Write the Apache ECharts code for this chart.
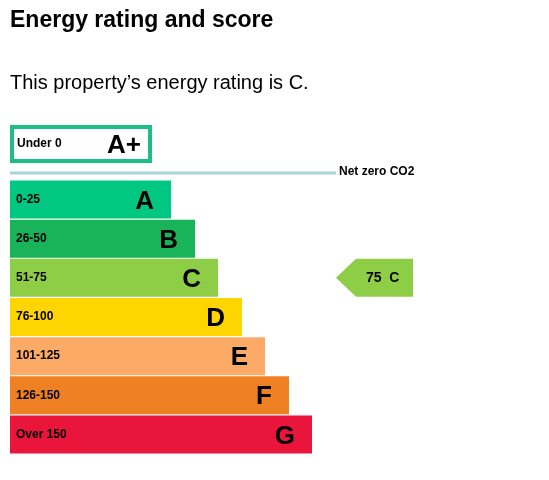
<!DOCTYPE html>
<html><head><meta charset="utf-8">
<script src="https://cdn.jsdelivr.net/npm/echarts@6/dist/echarts.min.js"></script>
<style>html,body{margin:0;padding:0;background:#fff}#c{width:549px;height:480px}</style>
</head><body><div id="c"></div>
<script>
const bands = ['A','B','C','D','E','F','G'];
const ranges = ['0-25','26-50','51-75','76-100','101-125','126-150','Over 150'];
const barLengths = [161,185,208,232,255,279,302];
const colors = ['#00c781','#19b459','#8dce46','#ffd500','#fcaa65','#ef8023','#e9153b'];
const topBand = 'A+', topRange = 'Under 0', topLength = 142;
const currentScore = 75, currentBand = 'C', currentPos = 326;

const chart = echarts.init(document.getElementById('c'));
chart.setOption({
  animation:false,
  title:[
    {text:'Energy rating and score',left:5,top:4,textStyle:{fontFamily:'Liberation Sans',fontSize:23,fontWeight:'bold',color:'#000'}},
    {text:'This property\u2019s energy rating is C.',left:5,top:68,textStyle:{fontFamily:'Liberation Sans',fontSize:20,fontWeight:'normal',color:'#000'}}
  ],
  graphic:[
    {type:'line',shape:{x1:10,y1:173,x2:336,y2:173},style:{stroke:'#a9d4de',lineWidth:3}},
    {type:'text',left:339,top:166,style:{text:'Net zero CO2',font:'bold 12px Liberation Sans',fill:'#000'}}
  ],
  grid:[
    {left:10,top:123,width:400,height:42},
    {left:10,top:180,width:400,height:274}
  ],
  xAxis:[
    {gridIndex:0,type:'value',min:0,max:400,show:false},
    {gridIndex:1,type:'value',min:0,max:400,show:false}
  ],
  yAxis:[
    {gridIndex:0,type:'category',data:[topBand],show:false},
    {gridIndex:1,type:'category',data:bands,inverse:true,show:false}
  ],
  series:[
    {type:'bar',xAxisIndex:0,yAxisIndex:0,barWidth:38,
     data:[{value:topLength,itemStyle:{color:'#fff',borderColor:'#1ebd84',borderWidth:4}}],
     label:{show:true,position:'insideLeft',offset:[2,0],formatter:topRange,fontFamily:'Liberation Sans',fontSize:12,fontWeight:'bold',color:'#000'}},
    {type:'bar',xAxisIndex:0,yAxisIndex:0,barWidth:38,barGap:'-100%',
     data:[{value:topLength,itemStyle:{color:'transparent'}}],
     label:{show:true,position:'insideRight',offset:[-6,2],formatter:topBand,fontFamily:'Liberation Sans',fontSize:26,fontWeight:'bold',color:'#000'}},
    {type:'bar',xAxisIndex:1,yAxisIndex:1,barCategoryGap:1,barWidth:38,
     data:barLengths.map((v,i)=>({value:v,itemStyle:{color:colors[i]}})),
     label:{show:true,position:'insideLeft',offset:[1,0],formatter:p=>ranges[p.dataIndex],fontFamily:'Liberation Sans',fontSize:12,fontWeight:'bold',color:'#000'}},
    {type:'bar',xAxisIndex:1,yAxisIndex:1,barWidth:38,barGap:'-100%',
     data:barLengths.map(v=>({value:v,itemStyle:{color:'transparent'}})),
     label:{show:true,position:'insideRight',offset:[-12,2],formatter:p=>bands[p.dataIndex],fontFamily:'Liberation Sans',fontSize:26,fontWeight:'bold',color:'#000'}},
    {type:'custom',xAxisIndex:1,yAxisIndex:1,
     data:[[currentPos,currentBand]],
     renderItem:(params,api)=>{
       const p=api.coord([api.value(0),api.value(1)]);
       const x=p[0],y=p[1],h=38,w=77;
       return {type:'group',children:[
         {type:'polygon',shape:{points:[[x,y],[x+20,y-h/2],[x+w,y-h/2],[x+w,y+h/2],[x+20,y+h/2]]},style:{fill:'#8dce46'}},
         {type:'text',style:{text:currentScore+'  '+currentBand,x:x+30,y:y,verticalAlign:'middle',font:'bold 14px Liberation Sans',fill:'#000'}}
       ]};
     }}
  ]
});
</script></body></html>
